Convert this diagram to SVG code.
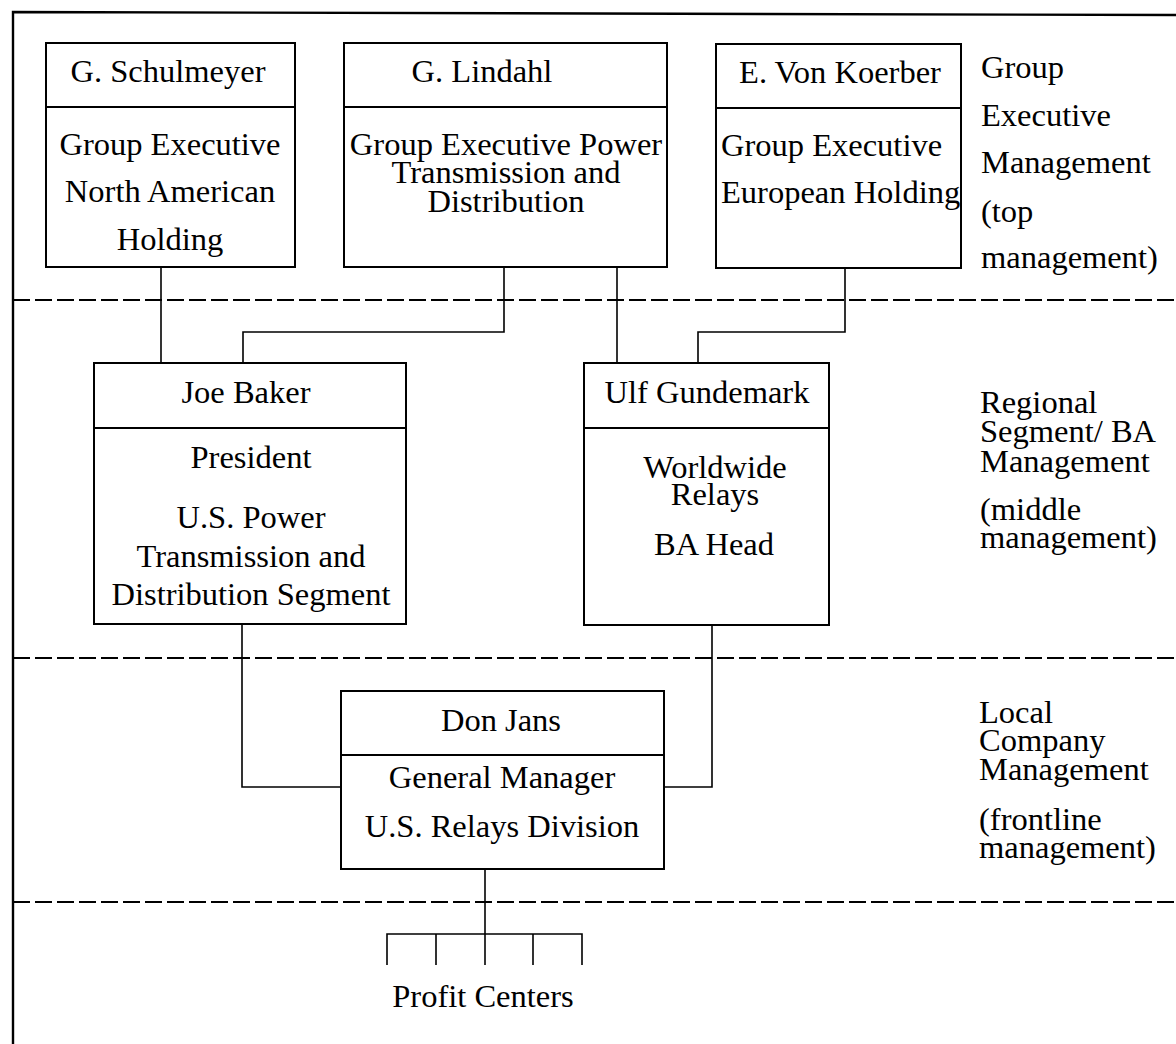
<svg xmlns="http://www.w3.org/2000/svg" width="1176" height="1044" viewBox="0 0 1176 1044">
<style>
.box{fill:#fff;stroke:#000;stroke-width:2}
.div{stroke:#000;stroke-width:2}
.t{font-family:"Liberation Serif","Times New Roman",serif;font-size:32.5px;fill:#000}
.c{text-anchor:middle}
.con{fill:none;stroke:#000;stroke-width:1.6}
.dash{stroke:#000;stroke-width:2.2;stroke-dasharray:17 5}
.frame{fill:none;stroke:#000;stroke-width:2.4}
</style>
<rect width="1176" height="1044" fill="#fff"/>
<path class="frame" d="M13,1044 V12 L1176,15"/>
<g id="levels">
<line class="dash" x1="13" y1="300" x2="1176" y2="300"/>
<line class="dash" x1="13" y1="658" x2="1176" y2="658"/>
<line class="dash" x1="13" y1="902" x2="1176" y2="902"/>
</g>
<g id="connectors">
<path class="con" d="M161,267 V363"/>
<path class="con" d="M504,267 V332 H243 V363"/>
<path class="con" d="M617,267 V363"/>
<path class="con" d="M845,268 V332 H698 V363"/>
<path class="con" d="M242,624 V787 H341"/>
<path class="con" d="M712,625 V787 H664"/>
<path class="con" d="M485,869 V965"/>
<path class="con" d="M387,965 V934 H582 V965"/>
<path class="con" d="M436,934 V965 M533,934 V965"/>
</g>
<g id="schulmeyer">
<rect class="box" x="46" y="43" width="249" height="224"/>
<line class="div" x1="46" y1="107" x2="295" y2="107"/>
<text class="t c" x="168" y="82">G. Schulmeyer</text>
<text class="t c" x="170" y="155">Group Executive</text>
<text class="t c" x="170" y="202">North American</text>
<text class="t c" x="170" y="250">Holding</text>
</g>
<g id="lindahl">
<rect class="box" x="344" y="43" width="323" height="224"/>
<line class="div" x1="344" y1="107" x2="667" y2="107"/>
<text class="t c" x="482" y="82">G. Lindahl</text>
<text class="t c" x="506" y="155">Group Executive Power</text>
<text class="t c" x="506" y="183">Transmission and</text>
<text class="t c" x="506" y="212">Distribution</text>
</g>
<g id="vonkoerber">
<rect class="box" x="716" y="44" width="245" height="224"/>
<line class="div" x1="716" y1="108" x2="961" y2="108"/>
<text class="t c" x="840" y="83">E. Von Koerber</text>
<text class="t" x="721" y="156">Group Executive</text>
<text class="t" x="721" y="203">European Holding</text>
</g>
<g id="baker">
<rect class="box" x="94" y="363" width="312" height="261"/>
<line class="div" x1="94" y1="428" x2="406" y2="428"/>
<text class="t c" x="246" y="403">Joe Baker</text>
<text class="t c" x="251" y="468">President</text>
<text class="t c" x="251" y="528">U.S. Power</text>
<text class="t c" x="251" y="567">Transmission and</text>
<text class="t c" x="251" y="605">Distribution Segment</text>
</g>
<g id="gundemark">
<rect class="box" x="584" y="363" width="245" height="262"/>
<line class="div" x1="584" y1="428" x2="829" y2="428"/>
<text class="t c" x="707" y="403">Ulf Gundemark</text>
<text class="t c" x="715" y="478">Worldwide</text>
<text class="t c" x="715" y="505">Relays</text>
<text class="t c" x="714" y="555">BA Head</text>
</g>
<g id="jans">
<rect class="box" x="341" y="691" width="323" height="178"/>
<line class="div" x1="341" y1="755" x2="664" y2="755"/>
<text class="t c" x="501" y="731">Don Jans</text>
<text class="t c" x="502" y="788">General Manager</text>
<text class="t c" x="502" y="837">U.S. Relays Division</text>
</g>
<g id="profit-centers">
<text class="t c" x="483" y="1007">Profit Centers</text>
</g>
<g id="level-labels">
<text class="t" x="981" y="78">Group</text>
<text class="t" x="981" y="126">Executive</text>
<text class="t" x="981" y="173">Management</text>
<text class="t" x="981" y="222">(top</text>
<text class="t" x="981" y="268">management)</text>
<text class="t" x="980" y="413">Regional</text>
<text class="t" x="980" y="442">Segment/ BA</text>
<text class="t" x="980" y="472">Management</text>
<text class="t" x="980" y="520">(middle</text>
<text class="t" x="980" y="548">management)</text>
<text class="t" x="979" y="723">Local</text>
<text class="t" x="979" y="751">Company</text>
<text class="t" x="979" y="780">Management</text>
<text class="t" x="979" y="830">(frontline</text>
<text class="t" x="979" y="858">management)</text>
</g>
</svg>
